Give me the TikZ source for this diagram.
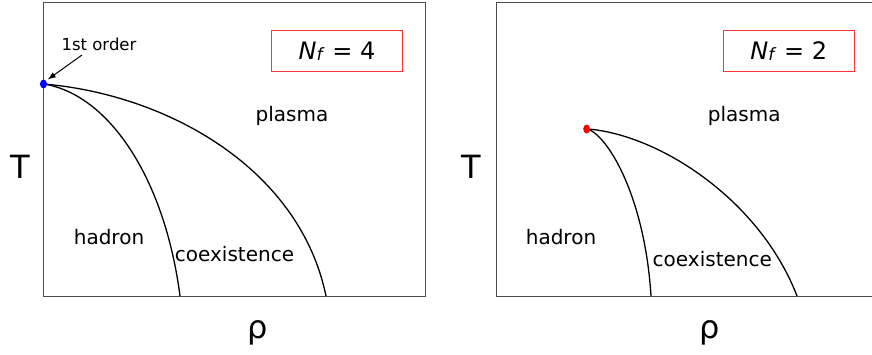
\documentclass[tikz,border=0pt]{standalone}
\usepackage{fontspec}
\usetikzlibrary{shapes.geometric,arrows.meta}
\setmainfont{DejaVu Sans}
\begin{document}
\begin{tikzpicture}[x=1pt,y=-1pt,
  frame/.style={draw=black!70,line width=1pt},
  curve/.style={draw=black,line width=1.3pt},
  lbl/.style={font=\fontsize{20}{22}\selectfont,inner sep=0pt},
  axislbl/.style={font=\fontsize{32}{34}\selectfont,inner sep=0pt},
  nfbox/.style={draw=red!80,line width=0.9pt,minimum width=131pt,minimum height=41pt,inner sep=0pt,font=\fontsize{24}{26}\selectfont}]
\useasboundingbox (0,0) rectangle (872,354);
% left panel
\draw[frame] (43.5,2) rectangle (425.5,296);
\coordinate (L0) at (44,84);
\coordinate (Li) at (180,296);
\coordinate (Lo) at (326,296);
\draw[curve] (L0) .. controls (110,95) and (165,180) .. (Li);
\draw[curve] (L0) .. controls (170,95) and (300,170) .. (Lo);
\node[fill=blue,ellipse,minimum width=7pt,minimum height=9pt,inner sep=0pt] (Ldot) at (43.5,84) {};
\node[font=\fontsize{16.5}{18}\selectfont,inner sep=1pt] (ord) at (99,44) {1st order};
\coordinate (arrS) at (82,55);
\draw[-{Latex[length=8pt,width=6pt]},line width=1pt,shorten >=2pt] (arrS) -- (Ldot.north east);
\node[nfbox] (nf4) at (337,51.2) {\textit{N}\raisebox{-1.5pt}{\fontsize{17}{17}\selectfont\textit{f}} = 4};
\node[lbl] (pl1) at (292,116) {plasma};
\node[lbl] (ha1) at (109,237) {hadron};
\node[lbl] (co1) at (234.5,254) {coexistence};
\node[axislbl] (T1) at (20,167) {T};
\node[axislbl] (r1) at (258,333) {ρ};
% right panel
\draw[frame] (873,2) -- (496,2) -- (496,296) -- (873,296);
\coordinate (R0) at (588,129);
\coordinate (Ri) at (651,296);
\coordinate (Ro) at (797,296);
\draw[curve] (R0) .. controls (610,138) and (645,200) .. (Ri);
\draw[curve] (R0) .. controls (660,135) and (760,200) .. (Ro);
\node[fill=red,ellipse,minimum width=7pt,minimum height=9pt,inner sep=0pt] (Rdot) at (586.7,129) {};
\node[nfbox] (nf2) at (788.8,51.2) {\textit{N}\raisebox{-1.5pt}{\fontsize{17}{17}\selectfont\textit{f}} = 2};
\node[lbl] (pl2) at (744.3,116) {plasma};
\node[lbl] (ha2) at (561,237) {hadron};
\node[lbl] (co2) at (712.3,259) {coexistence};
\node[axislbl] (T2) at (471.7,167) {T};
\node[axislbl] (r2) at (709.3,333) {ρ};
\end{tikzpicture}
\end{document}
